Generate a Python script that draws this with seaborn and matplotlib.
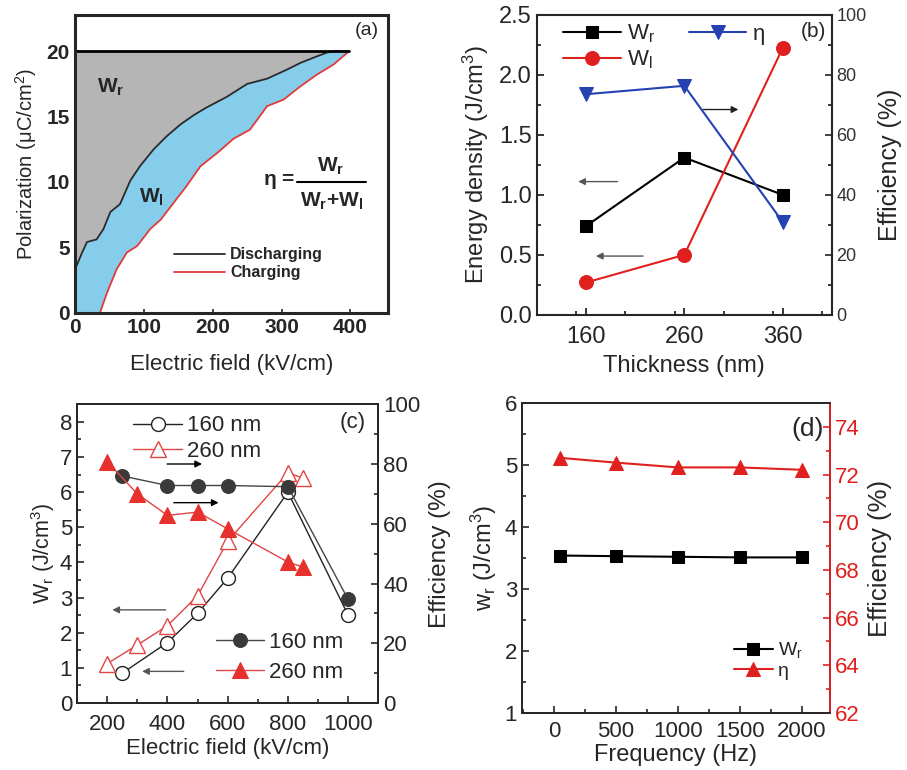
import matplotlib
matplotlib.use("Agg")
import matplotlib.pyplot as plt
import seaborn as sns
from matplotlib.ticker import MultipleLocator, FormatStrFormatter
from matplotlib.lines import Line2D

# -----------------------------
# data, panel (a): P-E loop branches
# -----------------------------
field_dis = [0, 2, 10, 17, 31, 41, 51, 65, 80, 94, 114, 133, 153, 172, 191, 220, 250, 279, 308, 327, 351, 366, 376, 395]
pol_dis = [3.4, 3.6, 4.6, 5.4, 5.6, 6.4, 7.7, 8.3, 10.1, 11.2, 12.5, 13.5, 14.4, 15.1, 15.7, 16.5, 17.5, 17.9, 18.6, 19.1, 19.6, 19.9, 20.0, 20.0]
field_chg = [36, 46, 60, 75, 90, 109, 124, 143, 162, 182, 206, 230, 254, 279, 303, 327, 351, 376, 398]
pol_chg = [0.0, 1.5, 3.3, 4.6, 5.1, 6.4, 7.1, 8.4, 9.7, 11.2, 12.2, 13.3, 14.0, 15.8, 16.3, 17.3, 18.2, 19.0, 20.0]
p_max = 20.0
e_max = 398

# panel (b)
thickness = [160, 260, 360]
wr_b = [0.74, 1.31, 1.00]
wl_b = [0.27, 0.50, 2.22]
eta_b = [73.5, 76.3, 31.0]

# panel (c)
field_160 = [250, 400, 500, 600, 800, 1000]
wr_160 = [0.85, 1.72, 2.55, 3.55, 6.0, 2.5]
eta_160 = [76.0, 72.8, 72.8, 72.8, 72.4, 34.7]
field_260 = [200, 300, 400, 500, 600, 800, 850]
wr_260 = [1.12, 1.65, 2.2, 3.05, 4.6, 6.55, 6.4]
eta_260 = [80.8, 70.0, 62.8, 63.9, 58.3, 47.2, 45.5]

# panel (d)
freq = [50, 500, 1000, 1500, 2000]
wr_d = [3.54, 3.53, 3.52, 3.51, 3.51]
eta_d = [72.7, 72.5, 72.3, 72.3, 72.2]

sns.set_theme(style="ticks")
plt.rcParams["font.family"] = ["Liberation Sans", "DejaVu Sans"]
plt.rcParams["mathtext.fontset"] = "custom"
plt.rcParams["mathtext.rm"] = "Liberation Sans"
plt.rcParams["mathtext.it"] = "Liberation Sans:italic"
plt.rcParams["mathtext.bf"] = "Liberation Sans:bold"
plt.rcParams["xtick.direction"] = "in"
plt.rcParams["ytick.direction"] = "in"

fig = plt.figure(figsize=(9.07, 7.7), dpi=100)

RED = "#e0201e"
BLUE = "#2541b2"


def arrow(ax, x0, x1, y, color="black", lw=1.0):
    ax.annotate("", xy=(x1, y), xytext=(x0, y),
                arrowprops=dict(arrowstyle="-|>", color=color, lw=lw,
                                mutation_scale=10, shrinkA=0, shrinkB=0))


# -----------------------------
# (a)
# -----------------------------
ax = fig.add_axes([0.083, 0.594, 0.345, 0.387])
ax.fill_between(field_dis, pol_dis, p_max, color="#b5b5b5", lw=0)
blue_x = [0] + field_dis + field_chg[::-1] + [0]
blue_y = [0] + pol_dis + pol_chg[::-1] + [0]
ax.fill(blue_x, blue_y, color="#85cdeb", lw=0)
sns.lineplot(x=field_dis, y=pol_dis, color="#2b2b2b", lw=1.3, sort=False, estimator=None, ax=ax)
sns.lineplot(x=field_chg, y=pol_chg, color="#e23a3a", lw=1.3, sort=False, estimator=None, ax=ax)
ax.plot([0, e_max], [p_max, p_max], color="black", lw=2)
ax.set_xlim(0, 455)
ax.set_ylim(0, 22.8)
ax.set_xticks([0, 100, 200, 300, 400])
ax.set_yticks([0, 5, 10, 15, 20])
for lab in ax.get_xticklabels() + ax.get_yticklabels():
    lab.set_fontweight("bold")
ax.tick_params(labelsize=15, length=3, width=1.2, pad=4)
for s in ax.spines.values():
    s.set_linewidth(2.2)
ax.set_xlabel("Electric field (kV/cm)", fontsize=16, labelpad=12)
ax.set_ylabel("Polarization (\u03bcC/cm$^2$)", fontsize=14.5, labelpad=5)
ax.text(0.97, 0.975, "(a)", transform=ax.transAxes, ha="right", va="top", fontsize=14)
ax.text(32, 17.2, "W$_\\mathbf{r}$", fontsize=15, fontweight="bold", ha="left", va="center")
ax.text(92, 8.8, "W$_\\mathbf{l}$", fontsize=15, fontweight="bold", ha="left", va="center")
ax.text(320, 10.0, "$\\mathbf{\\eta}$ = ", fontsize=15, fontweight="bold", ha="right", va="center")
ax.text(372, 11.2, "W$_\\mathbf{r}$", fontsize=15, fontweight="bold", ha="center", va="center")
ax.plot([322, 422], [10.0, 10.0], color="black", lw=1.5)
ax.text(372, 8.5, "W$_\\mathbf{r}$+W$_\\mathbf{l}$", fontsize=15, fontweight="bold", ha="center", va="center")
h_a = [Line2D([], [], color="#2b2b2b", lw=1.3), Line2D([], [], color="#e23a3a", lw=1.3)]
ax.legend(h_a, ["Discharging", "Charging"], loc="lower left", bbox_to_anchor=(0.27, 0.06),
          frameon=False, handlelength=3.2, handletextpad=0.3, labelspacing=0.2,
          prop={"weight": "bold", "size": 11.5})

# -----------------------------
# (b)
# -----------------------------
ax = fig.add_axes([0.592, 0.591, 0.325, 0.39])
ax2 = ax.twinx()
sns.lineplot(x=thickness, y=wr_b, color="black", marker="s", markersize=9, mec="black", lw=1.5,
             ax=ax, legend=False)
sns.lineplot(x=thickness, y=wl_b, color=RED, marker="o", markersize=10, mec=RED, lw=1.5,
             ax=ax, legend=False)
sns.lineplot(x=thickness, y=eta_b, color=BLUE, marker="v", markersize=10, mec=BLUE, lw=1.5,
             ax=ax2, legend=False)
ax.set_xlim(110, 410)
ax.set_ylim(0, 2.5)
ax2.set_ylim(0, 100)
ax.set_xticks(thickness)
ax.xaxis.set_minor_locator(MultipleLocator(50))
ax.yaxis.set_major_locator(MultipleLocator(0.5))
ax.yaxis.set_minor_locator(MultipleLocator(0.25))
ax2.yaxis.set_major_locator(MultipleLocator(20))
ax2.yaxis.set_minor_locator(MultipleLocator(10))
ax.yaxis.set_major_formatter(FormatStrFormatter("%.1f"))
ax.tick_params(labelsize=17, length=5, width=1.3, which="major")
ax.tick_params(axis="x", pad=8)
ax.tick_params(length=3, width=1.3, which="minor")
ax2.tick_params(labelsize=13, length=5, width=1.3, which="major", colors="#333333")
ax2.tick_params(length=3, width=1.3, which="minor")
for s in ax2.spines.values():
    s.set_linewidth(1.5)
ax.set_xlabel("Thickness (nm)", fontsize=17, labelpad=5)
ax.set_ylabel("Energy density (J/cm$^3$)", fontsize=17, labelpad=6)
ax2.set_ylabel("Efficiency (%)", fontsize=18, labelpad=8)
ax.text(0.98, 0.975, "(b)", transform=ax.transAxes, ha="right", va="top", fontsize=15)
arrow(ax, 192, 152, 1.11, color="#555555")
arrow(ax, 218, 170, 0.49, color="#555555")
arrow(ax, 279, 315, 1.71, color="#222222")
hb = ax.get_lines()[:2] + ax2.get_lines()[:1]
ax2.legend(hb, ["W$_\\mathrm{r}$", "W$_\\mathrm{l}$", "\u03b7"], ncol=2, loc="upper left",
           bbox_to_anchor=(0.02, 1.04), frameon=False, fontsize=16, handlelength=2.6,
           handletextpad=0.3, columnspacing=1.5, labelspacing=0.15)

# -----------------------------
# (c)
# -----------------------------
ax = fig.add_axes([0.085, 0.087, 0.332, 0.388])
ax2 = ax.twinx()
sns.lineplot(x=field_160, y=wr_160, color="#222222", marker="o", markersize=10, mfc="white",
             mec="#222222", mew=1.0, lw=1.0, ax=ax, legend=False, sort=False, estimator=None)
sns.lineplot(x=field_260, y=wr_260, color="#e04545", marker="^", markersize=11, mfc="white",
             mec="#e04545", mew=1.0, lw=1.0, ax=ax, legend=False, sort=False, estimator=None)
sns.lineplot(x=field_160, y=eta_160, color="#444444", marker="o", markersize=10, mfc="#3a3a3a",
             mec="#3a3a3a", lw=1.0, ax=ax2, legend=False, sort=False, estimator=None)
sns.lineplot(x=field_260, y=eta_260, color="#e04545", marker="^", markersize=11, mfc="#e8302c",
             mec="#e8302c", lw=1.0, ax=ax2, legend=False, sort=False, estimator=None)
ax.set_xlim(100, 1100)
ax.set_ylim(0, 8.5)
ax2.set_ylim(0, 100)
ax.set_xticks([200, 400, 600, 800, 1000])
ax.xaxis.set_minor_locator(MultipleLocator(100))
ax.yaxis.set_major_locator(MultipleLocator(1))
ax.yaxis.set_minor_locator(MultipleLocator(0.5))
ax2.yaxis.set_major_locator(MultipleLocator(20))
ax2.yaxis.set_minor_locator(MultipleLocator(10))
ax.tick_params(labelsize=16, length=5, width=1.2, which="major")
ax.tick_params(axis="x", pad=8)
ax.tick_params(length=3, width=1.2, which="minor")
ax2.tick_params(labelsize=16, length=5, width=1.2, which="major")
ax2.tick_params(length=3, width=1.2, which="minor")
for s in ax2.spines.values():
    s.set_linewidth(1.3)
ax.set_xlabel("Electric field (kV/cm)", fontsize=16, labelpad=2)
ax.set_ylabel("W$_\\mathrm{r}$ (J/cm$^3$)", fontsize=15.5, labelpad=2)
ax2.set_ylabel("Efficiency (%)", fontsize=17.5, labelpad=6)
ax.text(0.96, 0.975, "(c)", transform=ax.transAxes, ha="right", va="top", fontsize=16)
arrow(ax, 399, 515, 6.8)
arrow(ax, 421, 570, 5.7)
arrow(ax, 394, 217, 2.65, color="#555555")
arrow(ax, 454, 316, 0.9, color="#555555")
hc = ax.get_lines()[:2]
ax.legend(hc, ["160 nm", "260 nm"], loc="upper left", bbox_to_anchor=(0.12, 1.03), frameon=False,
          fontsize=16, handlelength=2.2, handletextpad=0.2, labelspacing=0.2)
hc2 = ax2.get_lines()[:2]
ax2.legend(hc2, ["160 nm", "260 nm"], loc="lower right", bbox_to_anchor=(0.95, 0.0), frameon=False,
           fontsize=16, handlelength=2.2, handletextpad=0.2, labelspacing=0.4)

# -----------------------------
# (d)
# -----------------------------
ax = fig.add_axes([0.5755, 0.074, 0.3396, 0.4026])
ax2 = ax.twinx()
sns.lineplot(x=freq, y=wr_d, color="black", marker="s", markersize=8, mec="black", lw=1.5,
             ax=ax, legend=False)
sns.lineplot(x=freq, y=eta_d, color=RED, marker="^", markersize=10, mec=RED, lw=1.5,
             ax=ax2, legend=False)
ax.set_xlim(-260, 2230)
ax.set_ylim(1, 6)
ax2.set_ylim(62, 75)
ax.set_xticks([0, 500, 1000, 1500, 2000])
ax.xaxis.set_minor_locator(MultipleLocator(250))
ax.yaxis.set_major_locator(MultipleLocator(1))
ax.yaxis.set_minor_locator(MultipleLocator(0.5))
ax2.yaxis.set_major_locator(MultipleLocator(2))
ax2.yaxis.set_minor_locator(MultipleLocator(1))
ax.tick_params(labelsize=16, length=5, width=1.2, which="major")
ax.tick_params(axis="x", pad=6)
ax.tick_params(length=3, width=1.2, which="minor")
ax2.tick_params(labelsize=16, length=5, width=1.2, which="both", colors=RED)
ax2.tick_params(length=3, which="minor")
for s in ax2.spines.values():
    s.set_linewidth(1.3)
ax2.spines["right"].set_color(RED)
ax.set_xlabel("Frequency (Hz)", fontsize=17, labelpad=1)
ax.set_ylabel("w$_\\mathrm{r}$ (J/cm$^3$)", fontsize=17, labelpad=4)
ax2.set_ylabel("Efficiency (%)", fontsize=18.5, labelpad=6)
ax.text(0.98, 0.955, "(d)", transform=ax.transAxes, ha="right", va="top", fontsize=19)
hd = ax.get_lines()[:1] + ax2.get_lines()[:1]
ax2.legend(hd, ["W$_\\mathrm{r}$", "\u03b7"], loc="lower right", bbox_to_anchor=(0.97, 0.05),
           frameon=False, fontsize=14, handlelength=2.0, handletextpad=0.3, labelspacing=0.1)

fig.savefig("out.png", dpi=100)
